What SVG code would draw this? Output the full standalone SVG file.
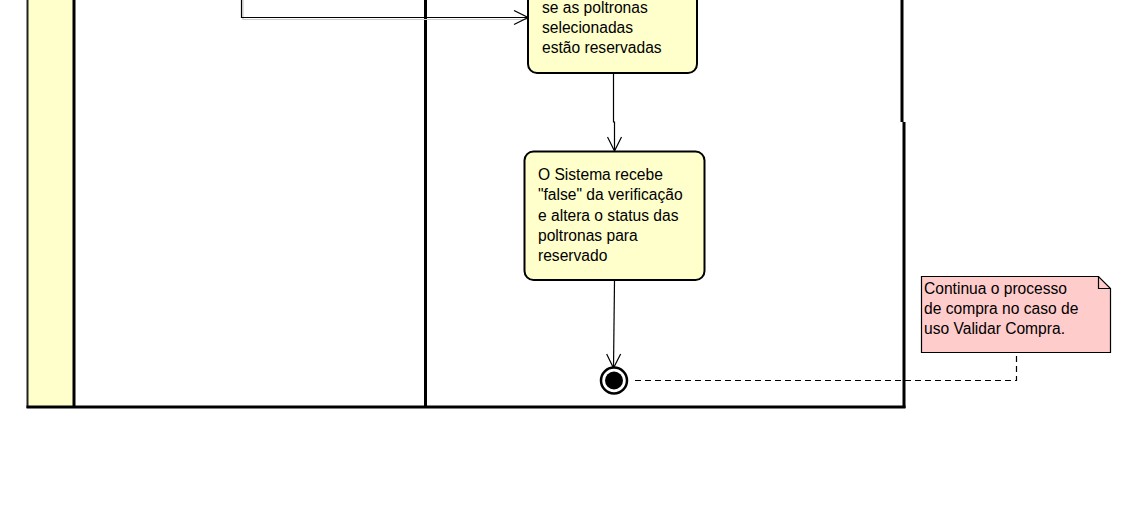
<svg xmlns="http://www.w3.org/2000/svg" width="1140" height="516" viewBox="0 0 1140 516">
<style>
.lane{fill:none;stroke:#000;stroke-width:3}
.act{fill:#FFFFCC;stroke:#000;stroke-width:2}
.t{font-family:"Liberation Sans",Arial,sans-serif;font-size:15.6px;fill:#000}
.edge{fill:none;stroke:#000;stroke-width:1.2}
.head{fill:none;stroke:#000;stroke-width:1.2}
.dash{fill:none;stroke:#000;stroke-width:1.2;stroke-dasharray:6,4}
</style>
<defs>
<marker id="open" viewBox="0 0 16 16" refX="15" refY="8" markerWidth="16" markerHeight="16" markerUnits="userSpaceOnUse" orient="auto">
<path d="M1,1 L15,8 L1,15" class="head"/>
</marker>
</defs>
<g id="swimlanes">
<rect x="27" y="-10" width="47" height="417" fill="#FFFFCC"/>
<line x1="27.5" y1="-10" x2="27.5" y2="408" stroke="#222" stroke-width="2"/>
<line x1="74" y1="-10" x2="74" y2="408" stroke="#000" stroke-width="3"/>
<line x1="425.5" y1="-10" x2="425.5" y2="408" stroke="#000" stroke-width="3"/>
<line x1="902" y1="-10" x2="902" y2="122" stroke="#000" stroke-width="3"/>
<line x1="904" y1="122" x2="904" y2="408" stroke="#000" stroke-width="3"/>
<line x1="26.5" y1="407" x2="905.5" y2="407" stroke="#000" stroke-width="3"/>
</g>
<g id="connectors">
<polyline points="242,-5 242,18.5 528,18.5" fill="none" stroke="#ccc" stroke-width="1.2" transform="translate(1,1)"/>
<polyline points="241.5,-5 241.5,17.5 528,17.5" class="edge" marker-end="url(#open)"/>
<polyline points="613.5,73 613.5,122 614.5,122 614.5,151" class="edge" marker-end="url(#open)"/>
<polyline points="614.5,281 613.5,368" class="edge" marker-end="url(#open)"/>
<polyline points="635,380.5 1016.5,380.5 1016.5,352" class="dash"/>
</g>
<g id="verify">
<rect x="528" y="-20" width="169" height="93" rx="9" ry="9" class="act"/>
<text class="t" x="542" y="13">se as poltronas</text>
<text class="t" x="542" y="33">selecionadas</text>
<text class="t" x="542" y="53">estão reservadas</text>
</g>
<g id="reserve">
<rect x="524.5" y="151.5" width="180" height="128.5" rx="9" ry="9" class="act"/>
<text class="t" x="538" y="180">O Sistema recebe</text>
<text class="t" x="538" y="200">"false" da verificação</text>
<text class="t" x="538" y="221">e altera o status das</text>
<text class="t" x="538" y="241">poltronas para</text>
<text class="t" x="538" y="261">reservado</text>
</g>
<g id="final">
<circle cx="614" cy="380.5" r="13" fill="#fff" stroke="#000" stroke-width="2.5"/>
<circle cx="614" cy="380.5" r="9" fill="#000"/>
</g>
<g id="note">
<path d="M921.5,276.5 L1098.5,276.5 L1110.5,288.5 L1110.5,352.5 L921.5,352.5 Z" fill="#FFCCCC" stroke="#000" stroke-width="1.2"/>
<path d="M1098.5,276.5 L1098.5,288.5 L1110.5,288.5" fill="none" stroke="#000" stroke-width="1.2"/>
<text class="t" x="924" y="294">Continua o processo</text>
<text class="t" x="924" y="314">de compra no caso de</text>
<text class="t" x="924" y="334">uso Validar Compra.</text>
</g>
</svg>
